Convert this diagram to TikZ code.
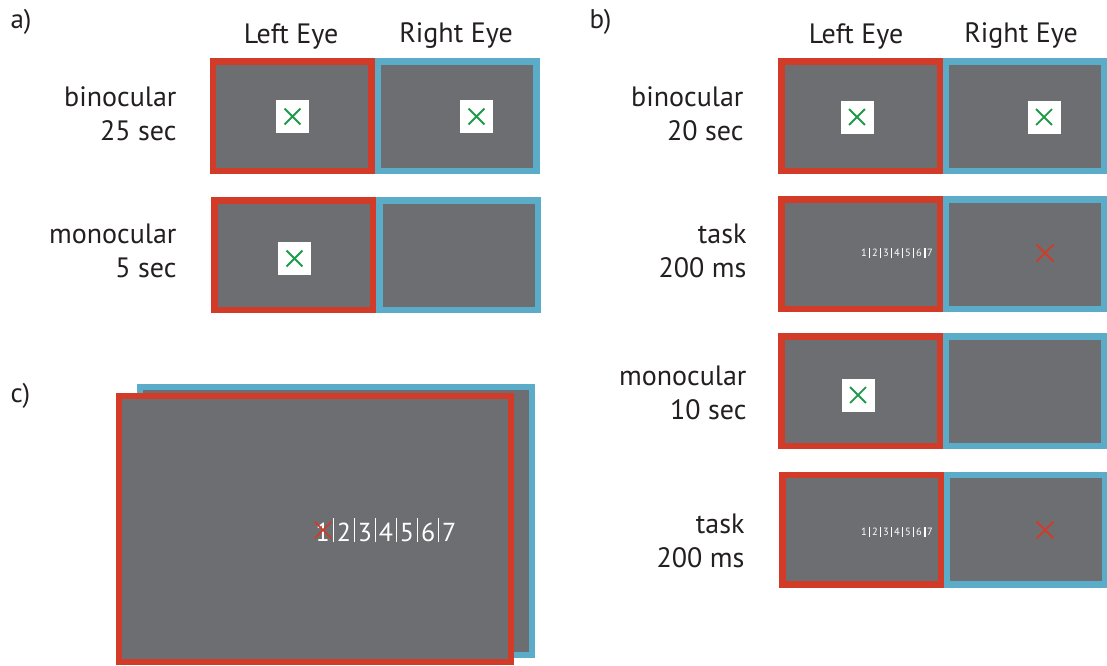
\documentclass[tikz,border=0pt]{standalone}
\usepackage{fontspec}
\setmainfont{PT Sans}
\usetikzlibrary{shapes.misc}
\definecolor{scr}{HTML}{6D6E71}
\definecolor{eyered}{HTML}{D13B27}
\definecolor{eyeblue}{HTML}{5AACC8}
\definecolor{fixgreen}{HTML}{1E9A4A}
\definecolor{ink}{HTML}{231F20}
\newcommand{\nbar}[3]{\hspace{#3}\rule[-1pt]{#1}{#2}\hspace{#3}}
\newcommand{\nstrip}[4]{\fontsize{#1}{#1}\selectfont 1\nbar{#2}{#3}{#4}2\nbar{#2}{#3}{#4}3\nbar{#2}{#3}{#4}4\nbar{#2}{#3}{#4}5\nbar{#2}{#3}{#4}6\nbar{#2}{#3}{#4}7}
\begin{document}
\begin{tikzpicture}[x=1pt,y=-1pt,
  screen/.style={draw, line width=6.5pt, fill=scr, minimum width=158.5pt, minimum height=109.5pt, inner sep=0pt},
  leftscr/.style={screen, draw=eyered},
  rightscr/.style={screen, draw=eyeblue},
  fixbox/.style={fill=white, minimum size=33pt, inner sep=0pt},
  gcross/.style={cross out, draw=fixgreen, line width=1.8pt, minimum size=14pt, inner sep=0pt},
  rcross/.style={cross out, draw=eyered, line width=1.8pt, minimum size=15pt, inner sep=0pt},
  lbl/.style={font=\fontsize{28}{34}\selectfont, text=ink, align=right, anchor=east},
  head/.style={font=\fontsize{28}{30}\selectfont, text=ink},
  panel/.style={font=\fontsize{27}{30}\selectfont, text=ink, anchor=west},
  smallnum/.style={text=white, inner sep=0pt},
]
\useasboundingbox (0,0) rectangle (1107,665);

% ---------- panel a ----------
\node[panel] (pa) at (7,22) {a)};
\node[head] (aL) at (291,36) {Left Eye};
\node[head] (aR) at (456,36) {Right Eye};

\node[leftscr]  (a1L) at (292,116) {};
\node[rightscr] (a1R) at (457,116) {};
\node[fixbox] (a1Lf) at (292.5,116.5) {};
\node[gcross] at (a1Lf) {};
\node[fixbox] (a1Rf) at (476.5,116.5) {};
\node[gcross] at (a1Rf) {};
\node[lbl] (a1t) at (180,114) {binocular\\25 sec};

\node[leftscr]  (a2L) at (293.5,255) {};
\node[rightscr] (a2R) at (458.5,255) {};
\node[fixbox] (a2Lf) at (294.5,258.5) {};
\node[gcross] at (a2Lf) {};
\node[lbl] (a2t) at (180,251) {monocular\\5 sec};

% ---------- panel b ----------
\node[panel] (pb) at (586,22) {b)};
\node[head] (bL) at (856,36) {Left Eye};
\node[head] (bR) at (1021,36) {Right Eye};

% row 1
\node[leftscr]  (b1L) at (860.5,116) {};
\node[rightscr] (b1R) at (1025,116) {};
\node[fixbox] (b1Lf) at (857,117) {};
\node[gcross] at (b1Lf) {};
\node[fixbox] (b1Rf) at (1044,117) {};
\node[gcross] at (b1Rf) {};
\node[lbl] (b1t) at (747,114) {binocular\\20 sec};

% row 2
\node[leftscr]  (b2L) at (860.5,254) {};
\node[rightscr] (b2R) at (1025,254) {};
\node[smallnum] (b2n) at (897,253) {\nstrip{10.5}{1.9pt}{9.5pt}{1.7pt}};
\node[rcross] (b2x) at (1045,253) {};
\node[lbl] (b2t) at (750,251) {task\\200 ms};

% row 3
\node[leftscr]  (b3L) at (860.5,391) {};
\node[rightscr] (b3R) at (1025,391) {};
\node[fixbox] (b3Lf) at (858,395) {};
\node[gcross] at (b3Lf) {};
\node[lbl] (b3t) at (750,393) {monocular\\10 sec};

% row 4
\node[leftscr]  (b4L) at (861.5,529.5) {};
\node[rightscr] (b4R) at (1026,529.5) {};
\node[smallnum] (b4n) at (897,532) {\nstrip{10.5}{1.9pt}{9.5pt}{1.7pt}};
\node[rcross] (b4x) at (1045,530) {};
\node[lbl] (b4t) at (748,541) {task\\200 ms};

% ---------- panel c ----------
\node[panel] (pc) at (7,396) {c)};
\node[draw=eyeblue, line width=6pt, fill=scr, minimum width=392pt, minimum height=268pt, inner sep=0pt] (cR) at (336,521) {};
\node[draw=eyered, line width=6pt, fill=scr, minimum width=392pt, minimum height=266pt, inner sep=0pt] (cL) at (315,529) {};
\node[smallnum, anchor=west] (cn) at (315.5,530) {\nstrip{26}{0.9pt}{24pt}{3pt}};
\node[cross out, draw=eyered, line width=1.6pt, minimum size=15pt, inner sep=0pt] (cx) at (323,530) {};
\end{tikzpicture}
\end{document}
